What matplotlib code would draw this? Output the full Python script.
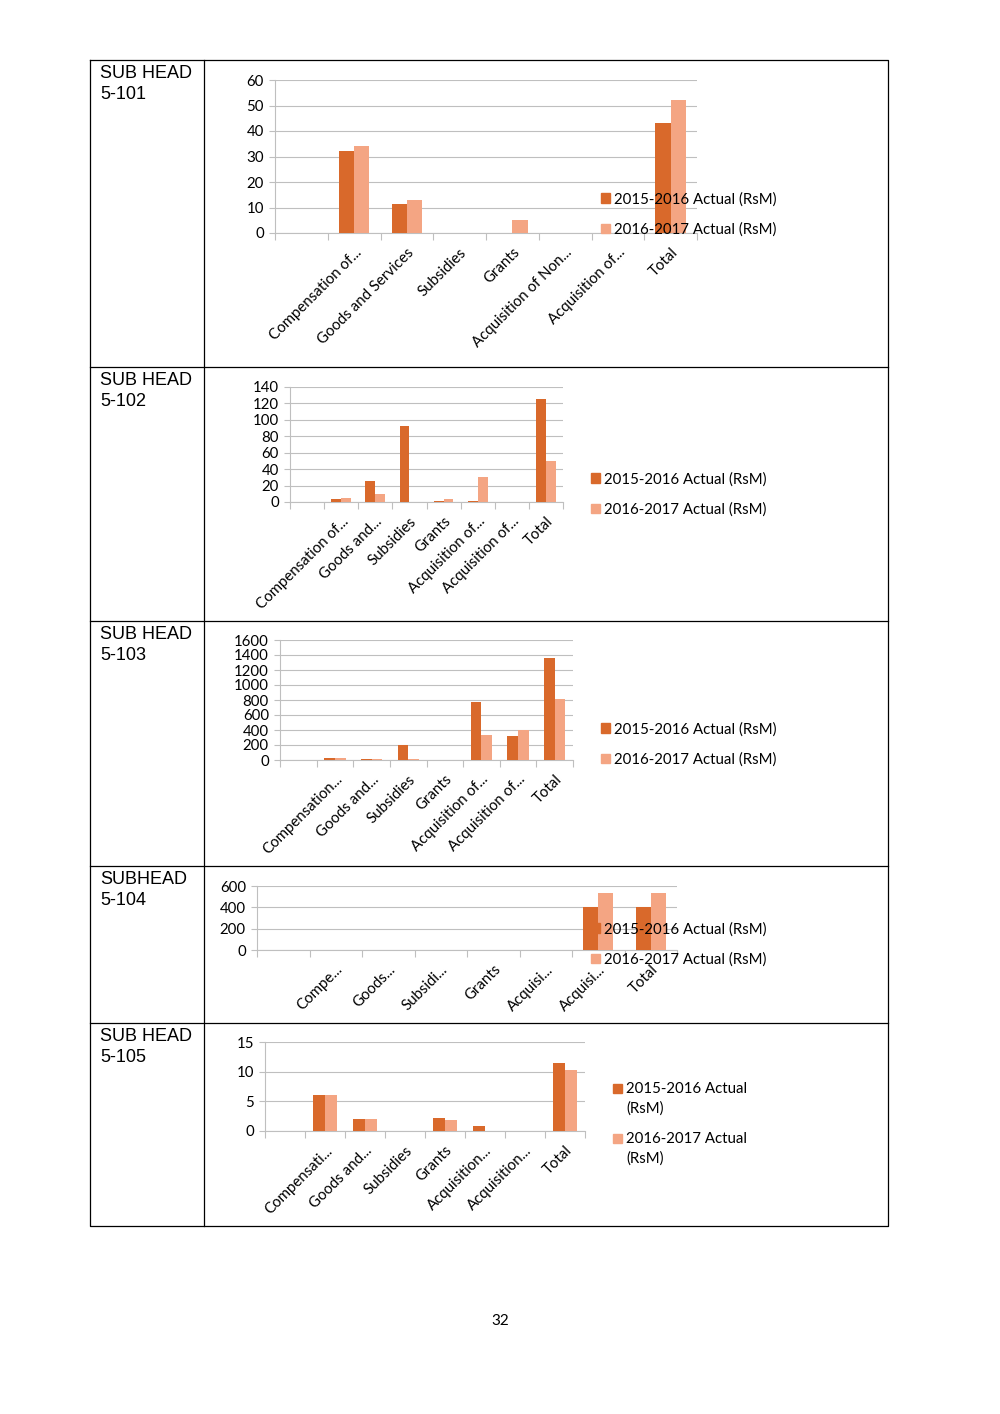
import matplotlib.pyplot as plt
from matplotlib.patches import Patch, Rectangle
import numpy as np

plt.rcParams['font.family'] = ['Lato', 'DejaVu Sans']

# data (RsM), first slot is an empty row in the source sheet
series_names = ['2015-2016 Actual (RsM)', '2016-2017 Actual (RsM)']

cats_101 = ['', 'Compensation of...', 'Goods and Services', 'Subsidies', 'Grants',
            'Acquisition of Non...', 'Acquisition of...', 'Total']
a2015_101 = [0, 32, 11.3, 0, 0, 0, 0, 43.3]
a2016_101 = [0, 34, 13, 0, 5, 0, 0, 52]

cats_102 = ['', 'Compensation of...', 'Goods and...', 'Subsidies', 'Grants',
            'Acquisition of...', 'Acquisition of...', 'Total']
a2015_102 = [0, 4, 26, 92, 1, 1, 0, 126]
a2016_102 = [0, 5, 10, 0, 3.5, 30, 0, 50]

cats_103 = ['', 'Compensation...', 'Goods and...', 'Subsidies', 'Grants',
            'Acquisition of...', 'Acquisition of...', 'Total']
a2015_103 = [0, 28, 15, 205, 0, 770, 320, 1360]
a2016_103 = [0, 25, 8, 10, 0, 330, 400, 810]

cats_104 = ['', 'Compe...', 'Goods...', 'Subsidi...', 'Grants', 'Acquisi...',
            'Acquisi...', 'Total']
a2015_104 = [0, 0, 0, 0, 0, 0, 400, 400]
a2016_104 = [0, 0, 0, 0, 0, 0, 530, 530]

cats_105 = ['', 'Compensati...', 'Goods and...', 'Subsidies', 'Grants',
            'Acquisition...', 'Acquisition...', 'Total']
a2015_105 = [0, 6.1, 2, 0, 2.2, 0.9, 0, 11.4]
a2016_105 = [0, 6.1, 2, 0, 1.9, 0, 0, 10.2]

row_titles = ['SUB HEAD\n5-101', 'SUB HEAD\n5-102', 'SUB HEAD\n5-103',
              'SUBHEAD\n5-104', 'SUB HEAD\n5-105']

DARK = '#D9692B'
LIGHT = '#F4A583'
GRID = '#BFBFBF'
FS = 10.8

W, H = 1000, 1414
fig = plt.figure(figsize=(10, 14.14), dpi=100)

# page layer: table frame, row titles, page number (pixel coordinates)
page = fig.add_axes([0, 0, 1, 1])
page.set_xlim(0, W)
page.set_ylim(H, 0)
page.axis('off')
row_tops = [60, 367, 621, 866, 1023, 1226]
page.plot([90, 888, 888, 90, 90], [60, 60, 1226, 1226, 60], color='black', lw=0.9)
page.plot([204, 204], [60, 1226], color='black', lw=0.9)
for y in row_tops[1:-1]:
    page.plot([90, 888], [y, y], color='black', lw=0.9)
for top, t in zip(row_tops, row_titles):
    page.text(100, top + 5, t, family='Liberation Sans', fontsize=13, va='top',
              ha='left', linespacing=1.3)
page.text(500, 1321, '32', fontsize=11, ha='center', va='center')


def px_axes(x0, x1, ytop, ybot):
    return fig.add_axes([x0 / W, 1 - ybot / H, (x1 - x0) / W, (ybot - ytop) / H])


def bar_chart(box, cats, v1, v2, ymax, step, legend_at=None):
    ax = px_axes(*box)
    x = np.arange(len(cats))
    w = 0.29
    ax.bar(x - w / 2, v1, w, color=DARK, zorder=3)
    ax.bar(x + w / 2, v2, w, color=LIGHT, zorder=3)
    ax.set_xlim(-0.5, len(cats) - 0.5)
    ax.set_ylim(0, ymax)
    ax.set_yticks(np.arange(0, ymax + step / 2, step))
    ax.yaxis.grid(True, color=GRID, lw=0.8, zorder=0)
    ax.set_axisbelow(True)
    for s in ['top', 'right']:
        ax.spines[s].set_visible(False)
    for s in ['left', 'bottom']:
        ax.spines[s].set_color(GRID)
        ax.spines[s].set_linewidth(0.8)
    ax.set_xticks(x)
    ax.set_xticklabels(cats, rotation=45, ha='right', rotation_mode='anchor',
                       fontsize=FS)
    ax.set_xticks(np.arange(-0.5, len(cats)), minor=True)
    ax.tick_params(axis='x', which='major', length=0, pad=9)
    ax.tick_params(axis='x', which='minor', length=5, color=GRID, width=0.8)
    ax.tick_params(axis='y', length=4, color=GRID, width=0.8, labelsize=FS, pad=4)
    if legend_at is not None:
        handles = [Patch(color=DARK), Patch(color=LIGHT)]
        ax.legend(handles, series_names, loc='upper left',
                  bbox_to_anchor=(legend_at[0] / W, 1 - legend_at[1] / H),
                  bbox_transform=fig.transFigure, frameon=False, fontsize=FS,
                  borderpad=0, borderaxespad=0, handlelength=0.6, handleheight=0.6,
                  handletextpad=0.25, labelspacing=1.07)
    return ax


bar_chart((275, 697, 80, 233), cats_101, a2015_101, a2016_101, 60, 10, (601, 192))
bar_chart((290, 563, 387, 502), cats_102, a2015_102, a2016_102, 140, 20, (591, 472))
bar_chart((280, 573, 640, 760), cats_103, a2015_103, a2016_103, 1600, 200, (601, 722))
bar_chart((257, 677, 886, 950), cats_104, a2015_104, a2016_104, 600, 200, (591, 922))
bar_chart((265, 585, 1042, 1131), cats_105, a2015_105, a2016_105, 15, 5)

# wrapped legend of 5-105: marker sits on the first line of each entry
for yc, col, name in [(1088, DARK, '2015-2016 Actual\n(RsM)'),
                      (1138, LIGHT, '2016-2017 Actual\n(RsM)')]:
    page.add_patch(Rectangle((613, yc - 4.5), 9, 9, color=col))
    page.text(626, yc - 6, name, fontsize=FS, va='top', ha='left', linespacing=1.45)

fig.savefig('out.png', dpi=100)
